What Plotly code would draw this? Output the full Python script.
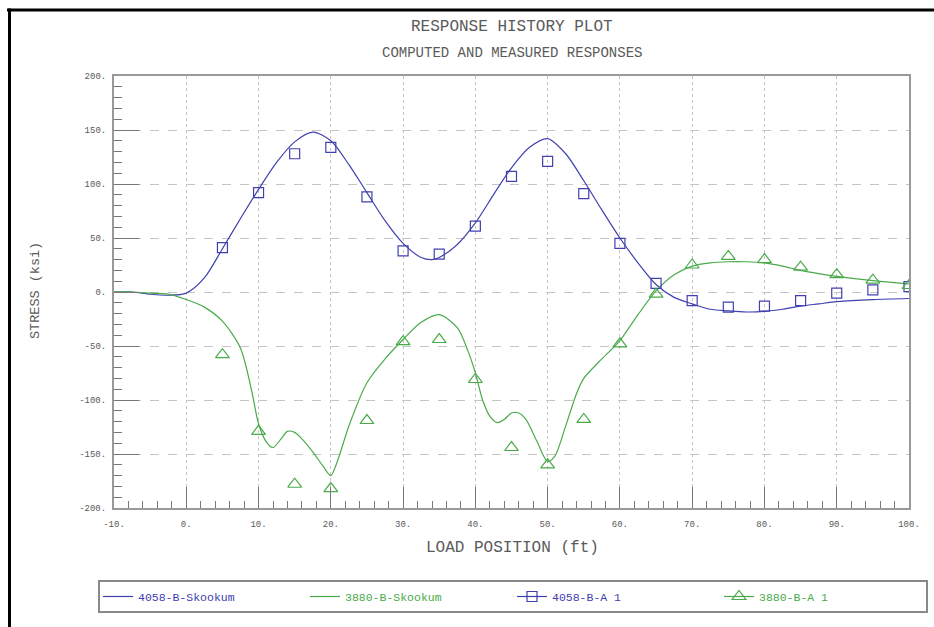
import plotly.graph_objects as go

# ---- data ----
calc_x_blue = [-10, -7.5, -5, -2.5, 0, 2.5, 5, 7.5, 10, 12.5, 15, 17.5, 20, 22.5, 25, 27.5,
               30, 32.5, 34, 35, 37.5, 40, 42.5, 45, 47.5, 50, 52.5, 55, 57.5, 60, 62.5,
               65, 67.5, 70, 72.5, 75, 77.5, 80, 82.5, 85, 87.5, 90, 95, 100]
calc_y_blue = [0, 0, -2, -3, -1, 13, 40, 68, 95, 120, 139, 148, 140, 118, 92, 66,
               45, 32, 30, 32, 44, 64, 90, 115, 134, 142, 128, 103, 76, 50, 27,
               7, -5, -11, -16, -17.5, -18.5, -18, -16, -13, -11, -9, -7, -6]

calc_x_green = [-10, -7.5, -5, -2.5, 0, 2.5, 5, 7.5, 9, 10, 11, 12, 13, 14, 15, 16, 17.5,
                19, 20, 21, 22.5, 25, 27.5, 30, 32.5, 35, 37.5, 39, 40, 41, 42, 43, 44,
                45, 46, 47, 48.5, 50, 51, 52.5, 54, 55, 57.5, 60, 62.5, 65, 67.5, 70,
                72.5, 75, 77.5, 80, 82.5, 85, 87.5, 90, 95, 100]
calc_y_green = [0, 0, -1, -2, -7, -14, -27, -52, -90, -122, -138, -144, -137, -129, -130,
                -136, -148, -162, -170, -155, -124, -84, -62, -44, -28, -21, -33, -55,
                -75, -100, -115, -121, -118, -112, -112, -118, -138, -157, -152, -124,
                -94, -80, -62, -45, -21, 1, 16, 24, 27, 28, 28, 27, 24, 20, 17, 14.5,
                10.5, 7.5]

meas_x = [5, 10, 15, 20, 25, 30, 35, 40, 45, 50, 55, 60, 65, 70, 75, 80, 85, 90, 95, 100]
meas_blue = [41, 92, 128, 134, 88, 38, 35, 61, 107, 121, 91, 45, 8, -8, -14, -13, -8, -1, 2, 5]
meas_green = [-58, -129, -178, -182, -119, -46, -44, -81, -144, -160, -118, -48, -2,
              25, 33, 30, 23, 16, 11, 6]

names = ["4058-B-Skookum", "3880-B-Skookum", "4058-B-A 1", "3880-B-A 1"]

x_tickvals = [-10, 0, 10, 20, 30, 40, 50, 60, 70, 80, 90, 100]
x_ticktext = ["-10.", "0.", "10.", "20.", "30.", "40.", "50.", "60.", "70.", "80.", "90.", "100."]
y_tickvals = [-200, -150, -100, -50, 0, 50, 100, 150, 200]
y_ticktext = ["-200.", "-150.", "-100.", "-50.", "0.", "50.", "100.", "150.", "200."]

BLUE = "#4040b0"
GREEN = "#4aaa4a"
FONT = "Liberation Mono"
TXT = "#5a5a5a"


def colored(name, color):
    return f"<span style='color:{color}'>{name}</span>"


fig = go.Figure()
fig.add_trace(go.Scatter(x=calc_x_blue, y=calc_y_blue, mode="lines",
                         name=colored(names[0], BLUE),
                         line=dict(color=BLUE, width=1.2, shape="spline", smoothing=0.8)))
fig.add_trace(go.Scatter(x=calc_x_green, y=calc_y_green, mode="lines",
                         name=colored(names[1], GREEN),
                         line=dict(color=GREEN, width=1.2, shape="spline", smoothing=0.8)))
fig.add_trace(go.Scatter(x=meas_x, y=meas_blue, mode="markers", showlegend=False,
                         legendgroup="m1", name=names[2],
                         marker=dict(symbol="square-open", size=10, color=BLUE,
                                     line=dict(width=1.2, color=BLUE))))
fig.add_trace(go.Scatter(x=meas_x, y=meas_green, mode="markers", showlegend=False,
                         legendgroup="m2", name=names[3],
                         marker=dict(symbol="triangle-up-open", size=12, color=GREEN,
                                     line=dict(width=1.2, color=GREEN))))
# legend entries for the measured series (line through the symbol, as in the original)
fig.add_trace(go.Scatter(x=[None], y=[None], mode="lines+markers", legendgroup="m1",
                         name=colored(names[2], BLUE),
                         line=dict(color=BLUE, width=1.2),
                         marker=dict(symbol="square-open", size=10, color=BLUE,
                                     line=dict(width=1.2, color=BLUE))))
fig.add_trace(go.Scatter(x=[None], y=[None], mode="lines+markers", legendgroup="m2",
                         name=colored(names[3], GREEN),
                         line=dict(color=GREEN, width=1.2),
                         marker=dict(symbol="triangle-up-open", size=12, color=GREEN,
                                     line=dict(width=1.2, color=GREEN))))

L, R, T, B = 114, 25, 76, 119
W, H = 934, 627
pw, ph = W - L - R, H - T - B


def px(xp):
    return (xp - L) / pw


def py(yp):
    return (H - B - yp) / ph


fig.update_layout(
    width=W, height=H,
    margin=dict(l=L, r=R, t=T, b=B, pad=0),
    paper_bgcolor="white", plot_bgcolor="white",
    font=dict(family=FONT, color=TXT, size=10),
    showlegend=True,
    legend=dict(orientation="h", x=px(98), y=py(580), xanchor="left", yanchor="top",
                bordercolor="#888888", borderwidth=2, bgcolor="white",
                entrywidth=162, entrywidthmode="pixels", itemwidth=30,
                font=dict(family=FONT, size=11.5), tracegroupgap=0),
    xaxis=dict(range=[-10, 100], tickvals=x_tickvals, ticktext=x_ticktext,
               showline=True, mirror=True, linecolor="#999999", linewidth=2,
               ticks="inside", ticklen=21, tickwidth=1.2, tickcolor="#777777",
               minor=dict(ticks="inside", ticklen=7, dtick=2, tickcolor="#777777",
                          tickwidth=1.2, showgrid=False),
               showgrid=True, gridcolor="#c4c4c4", griddash="dot", gridwidth=1,
               zeroline=False, tickfont=dict(size=9, color=TXT),
               ticklabelstandoff=6),
    yaxis=dict(range=[-200, 200], tickvals=y_tickvals, ticktext=y_ticktext,
               showline=True, mirror=True, linecolor="#999999", linewidth=2,
               ticks="inside", ticklen=25, tickwidth=1.2, tickcolor="#777777",
               minor=dict(ticks="inside", ticklen=8, dtick=10, tickcolor="#777777",
                          tickwidth=1.2, showgrid=False),
               showgrid=True, gridcolor="#c4c4c4", griddash="dash", gridwidth=1,
               zeroline=False, tickfont=dict(size=9, color=TXT),
               ticklabelstandoff=4),
)

annos = [
    ("RESPONSE HISTORY PLOT", 512, 27, 16, 0),
    ("COMPUTED AND MEASURED RESPONSES", 512, 53, 14, 0),
    ("LOAD POSITION (ft)", 512, 548, 16, 0),
    ("STRESS (ksi)", 35, 291, 13.5, -90),
]
for text, ax, ay, size, ang in annos:
    fig.add_annotation(xref="paper", yref="paper", showarrow=False,
                       xanchor="center", yanchor="middle", text=text,
                       x=px(ax), y=py(ay), textangle=ang,
                       font=dict(family=FONT, color=TXT, size=size))

# black page frame (top and left edges)
fig.add_shape(type="line", xref="paper", yref="paper", x0=px(7), x1=px(934),
              y0=py(10), y1=py(10), line=dict(color="black", width=3))
fig.add_shape(type="line", xref="paper", yref="paper", x0=px(9.5), x1=px(9.5),
              y0=py(8.5), y1=py(627), line=dict(color="black", width=3))

fig.write_html("out.html", config={"displayModeBar": False},
               post_script="document.body.style.margin='0';")
